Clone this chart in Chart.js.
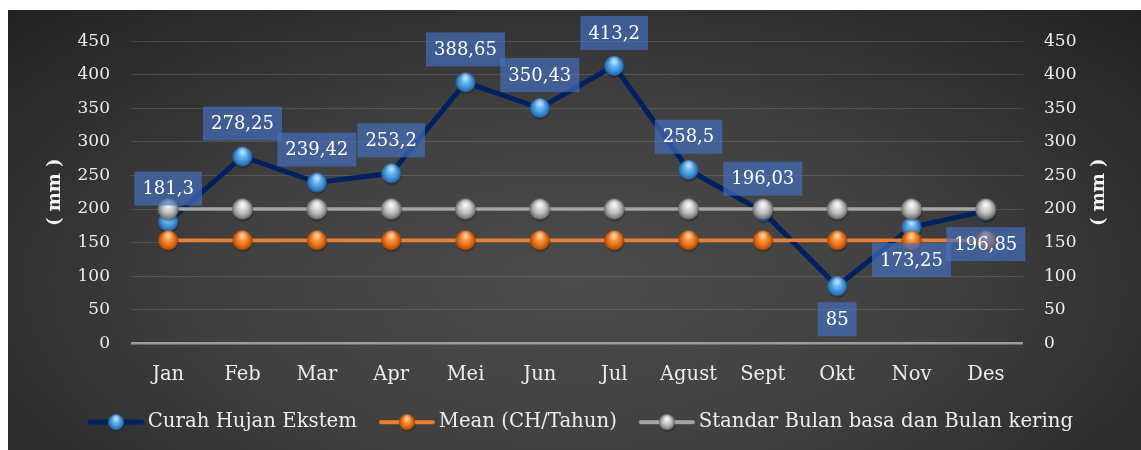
<!DOCTYPE html>
<html>
<head>
<meta charset="utf-8">
<script src="https://cdn.jsdelivr.net/npm/chart.js@4.4.1/dist/chart.umd.min.js"></script>
<style>
  html, body { margin: 0; padding: 0; background: #fff; }
  #wrap {
    position: absolute; left: 8px; top: 10px; width: 1133px; height: 440px;
    background: radial-gradient(ellipse 75% 95% at 50% 62%, #4b4b4b 0%, #414141 40%, #2c2c2c 75%, #1e1e1e 100%);
  }
</style>
</head>
<body>
<div id="wrap"><canvas id="chart"></canvas></div>
<script>
const MONTHS = ["Jan", "Feb", "Mar", "Apr", "Mei", "Jun", "Jul", "Agust", "Sept", "Okt", "Nov", "Des"];
const CURAH_HUJAN = [181.3, 278.25, 239.42, 253.2, 388.65, 350.43, 413.2, 258.5, 196.03, 85, 173.25, 196.85];
const MEAN_CH = [153.5, 153.5, 153.5, 153.5, 153.5, 153.5, 153.5, 153.5, 153.5, 153.5, 153.5, 153.5];
const STANDAR = [200, 200, 200, 200, 200, 200, 200, 200, 200, 200, 200, 200];
const SERIES_NAMES = ["Curah Hujan Ekstem", "Mean (CH/Tahun)", "Standar Bulan basa dan Bulan kering"];
const Y_MIN = 0, Y_MAX = 450, Y_STEP = 50;
const AXIS_TITLE = "( mm )";

// months whose value label sits under the point
const LABEL_BELOW = ["Okt", "Nov", "Des"];

const FONT = '"DejaVu Serif", serif';
const TEXT_COLOR = "#ececec";

//============================
// marker images
//============================

function drawBall(g, cx, cy, r, light, mid, dark) {
  // soft shadow
  g.fillStyle = "rgba(0,0,0,0.35)";
  g.beginPath();
  g.arc(cx + 0.5, cy + 1.5, r, 0, Math.PI * 2);
  g.fill();
  const grad = g.createRadialGradient(cx, cy - r * 0.35, r * 0.05, cx, cy, r);
  grad.addColorStop(0, light);
  grad.addColorStop(0.55, mid);
  grad.addColorStop(1, dark);
  g.fillStyle = grad;
  g.beginPath();
  g.arc(cx, cy, r, 0, Math.PI * 2);
  g.fill();
  // top highlight
  const hl = g.createRadialGradient(cx, cy - r * 0.55, 0, cx, cy - r * 0.55, r * 0.55);
  hl.addColorStop(0, "rgba(255,255,255,0.55)");
  hl.addColorStop(1, "rgba(255,255,255,0)");
  g.fillStyle = hl;
  g.beginPath();
  g.arc(cx, cy, r, 0, Math.PI * 2);
  g.fill();
}

function sphere(r, light, mid, dark) {
  const cv = document.createElement("canvas");
  cv.width = 2 * r + 4;
  cv.height = 2 * r + 4;
  drawBall(cv.getContext("2d"), cv.width / 2, cv.height / 2, r, light, mid, dark);
  return cv;
}

// legend icon: line with ball, drawn at an offset inside a wider transparent image
function legendIcon(light, mid, dark, color, width) {
  const cv = document.createElement("canvas");
  cv.width = 80;
  cv.height = 20;
  const g = cv.getContext("2d");
  const x0 = 21, x1 = 77, cy = 10;
  g.strokeStyle = color;
  g.lineWidth = width;
  g.lineCap = "round";
  g.beginPath();
  g.moveTo(x0 + width / 2, cy);
  g.lineTo(x1 - width / 2, cy);
  g.stroke();
  drawBall(g, (x0 + x1) / 2, cy, 8, light, mid, dark);
  return cv;
}

const BLUE_LINE = "#002060";
const ORANGE_LINE = "#ED7D31";
const GREY_LINE = "#A5A5A5";

const blueDot = sphere(10, "#8fd0ff", "#4a9de2", "#235f9c");
const orangeDot = sphere(10, "#ffb464", "#f07a22", "#a84800");
const greyDot = sphere(10.5, "#f6f6f6", "#bdbdbd", "#6a6a6a");

const LEGEND_ICONS = [
  legendIcon("#8fd0ff", "#4a9de2", "#235f9c", BLUE_LINE, 5),
  legendIcon("#ffb464", "#f07a22", "#a84800", ORANGE_LINE, 4),
  legendIcon("#f6f6f6", "#bdbdbd", "#6a6a6a", GREY_LINE, 4),
];

//============================
// plugins
//============================

const dataLabels = {
  id: "dataLabels",
  afterDatasetsDraw(chart) {
    const ctx = chart.ctx;
    const meta = chart.getDatasetMeta(0);
    ctx.save();
    ctx.font = "18px " + FONT;
    ctx.textAlign = "center";
    ctx.textBaseline = "middle";
    meta.data.forEach((pt, i) => {
      const txt = String(CURAH_HUJAN[i]).replace(".", ",");
      const w = ctx.measureText(txt).width + 16;
      const below = LABEL_BELOW.includes(MONTHS[i]);
      const cy = pt.y + (below ? 33 : -33);
      ctx.fillStyle = "rgba(68,114,196,0.66)";
      ctx.fillRect(pt.x - w / 2, cy - 17, w, 34);
      ctx.fillStyle = "#ffffff";
      ctx.fillText(txt, pt.x, cy + 1);
    });
    ctx.restore();
  },
};

const axisTitles = {
  id: "axisTitles",
  afterDraw(chart) {
    const ctx = chart.ctx;
    const area = chart.chartArea;
    const midY = (area.top + area.bottom) / 2;
    ctx.save();
    ctx.font = "bold 18px " + FONT;
    ctx.fillStyle = "#f4f4f4";
    ctx.textAlign = "center";
    ctx.textBaseline = "middle";
    [47, 1091].forEach((x) => {
      ctx.save();
      ctx.translate(x, midY);
      ctx.rotate(-Math.PI / 2);
      ctx.fillText(AXIS_TITLE, 0, 0);
      ctx.restore();
    });
    ctx.restore();
  },
};

//============================
// chart
//============================

var data = {
  labels: MONTHS,
  datasets: [
    {
      label: SERIES_NAMES[0],
      data: CURAH_HUJAN,
      borderColor: BLUE_LINE,
      backgroundColor: BLUE_LINE,
      borderWidth: 5,
      pointStyle: blueDot,
      pointRadius: 10,
      order: 3,
    },
    {
      label: SERIES_NAMES[1],
      data: MEAN_CH,
      borderColor: ORANGE_LINE,
      backgroundColor: ORANGE_LINE,
      borderWidth: 3.5,
      pointStyle: orangeDot,
      pointRadius: 10,
      order: 2,
    },
    {
      label: SERIES_NAMES[2],
      data: STANDAR,
      borderColor: GREY_LINE,
      backgroundColor: GREY_LINE,
      borderWidth: 3.5,
      pointStyle: greyDot,
      pointRadius: 10,
      order: 1,
    },
  ],
};

var config = {
  type: "line",
  data: data,
  options: {
    responsive: true,
    maintainAspectRatio: false,
    animation: false,
    layout: { padding: { top: 29, bottom: 8, left: 0, right: 0 } },
    scales: {
      x: {
        offset: true,
        grid: { display: false, drawTicks: false },
        border: { display: false },
        ticks: { color: TEXT_COLOR, font: { family: FONT, size: 19.5 }, padding: 20 },
        afterFit(s) { s.height = 59; },
      },
      y: {
        position: "left",
        min: Y_MIN,
        max: Y_MAX,
        ticks: { stepSize: Y_STEP, color: TEXT_COLOR, font: { family: FONT, size: 17 }, padding: 21 },
        grid: {
          drawTicks: false,
          color: (c) => (c.tick && c.tick.value === 0 ? "#9c9c9c" : "rgba(255,255,255,0.13)"),
          lineWidth: (c) => (c.tick && c.tick.value === 0 ? 2.5 : 1),
        },
        border: { display: false },
        afterFit(s) { s.width = 123; },
      },
      y2: {
        position: "right",
        min: Y_MIN,
        max: Y_MAX,
        ticks: { stepSize: Y_STEP, color: TEXT_COLOR, font: { family: FONT, size: 17 }, padding: 21 },
        grid: { display: false, drawTicks: false },
        border: { display: false },
        afterFit(s) { s.width = 118; },
      },
    },
    plugins: {
      tooltip: { enabled: false },
      legend: {
        position: "bottom",
        labels: {
          usePointStyle: true,
          pointStyleWidth: 62,
          padding: 10,
          color: TEXT_COLOR,
          font: { family: FONT, size: 19.7 },
          sort: (a, b) => a.datasetIndex - b.datasetIndex,
          generateLabels(chart) {
            const items = Chart.defaults.plugins.legend.labels.generateLabels(chart);
            items.forEach((it) => { it.pointStyle = LEGEND_ICONS[it.datasetIndex]; });
            return items;
          },
        },
      },
    },
  },
  plugins: [dataLabels, axisTitles],
};

new Chart(document.getElementById("chart"), config);
</script>
</body>
</html>
